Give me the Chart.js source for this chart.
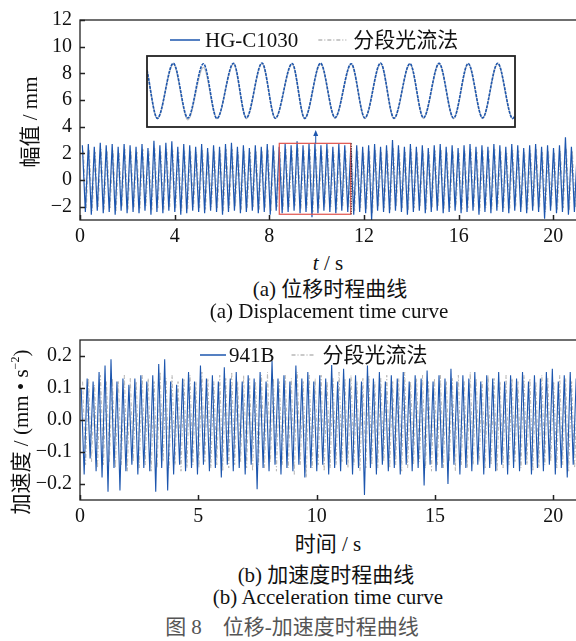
<!DOCTYPE html>
<html><head><meta charset="utf-8">
<script src="https://cdn.jsdelivr.net/npm/chart.js@4.4.1/dist/chart.umd.min.js"></script>
<style>
html,body{margin:0;padding:0;background:#fff;}
body{width:576px;height:641px;overflow:hidden;position:relative;}
canvas{position:absolute;}
.t{position:absolute;font-family:"Liberation Serif","Noto Sans CJK SC",serif;color:#111;white-space:nowrap;font-size:21px;line-height:1;transform:translate(-50%,-50%);}
.rot{transform:translate(-50%,-50%) rotate(-90deg);}
sup{font-size:12px;vertical-align:9px;line-height:0;}
</style></head><body>
<canvas id="cTop" width="580" height="250" style="left:0;top:0;width:580px;height:250px"></canvas>
<canvas id="cInset" width="370" height="73" style="left:146px;top:55px;width:370px;height:73px"></canvas>
<canvas id="cBot" width="580" height="210" style="left:0;top:320px;width:580px;height:210px"></canvas>
<div class="t rot" style="left:30px;top:122px">幅值 / mm</div>
<div class="t" style="left:328px;top:263px"><i>t</i> / s</div>
<div class="t" style="left:330px;top:289px">(a) 位移时程曲线</div>
<div class="t" style="left:329px;top:311px">(a) Displacement time curve</div>
<div class="t rot" style="left:21px;top:432px">加速度 / (mm • s<sup>−2</sup>)</div>
<div class="t" style="left:328px;top:544px">时间 / s</div>
<div class="t" style="left:326px;top:575px">(b) 加速度时程曲线</div>
<div class="t" style="left:328px;top:597px">(b) Acceleration time curve</div>
<div class="t" style="left:292px;top:627px;color:#555;font-size:21px">图 8　位移-加速度时程曲线</div>
<script>
// ---------- data ----------
// sampling of the extrema (peak / trough alternate every half period)
const sampleStart = 0.1;      // s, first displacement peak
const halfPeriod = 0.126;     // s
const ofLag = 0.04;           // s, optical-flow extrema lag
const accStart = 0.05;        // s, first acceleration peak
const accOfLag = 0.06;        // s

const xTicksTop = [0, 4, 8, 12, 16, 20];
const yTicksTop = [-2, 0, 2, 4, 6, 8, 10, 12];
const xTicksBot = [0, 5, 10, 15, 20];
const yTicksBot = [-0.2, -0.1, 0, 0.1, 0.2];

const hgPeaks = [2.6,2.7,2.5,2.8,2.6,2.7,2.5,2.7,2.6,2.5, 2.7,2.4,2.95,2.6,2.8,2.9,2.5,2.7,2.6,2.5,
  2.7,2.4,2.6,2.5,2.7,2.8,2.5,2.6,2.4,2.6, 2.5,2.7,2.6,2.5,2.7,2.6,2.9,2.6,2.7,2.8,
  2.6,2.7,2.5,2.7,2.6,2.4,2.6,2.5,2.6,2.7, 2.5,2.6,3.0,2.6,2.5,2.7,2.5,2.6,2.4,2.6,
  2.7,2.5,2.6,2.4,2.6,2.7,2.5,2.6,2.5,2.7, 2.6,2.5,2.7,2.6,2.4,2.6,2.7,2.5,2.6,2.4,
  2.6,3.2,2.5,2.5];
const hgTroughs = [-2.4,-2.6,-2.3,-2.5,-2.4,-2.6,-2.3,-2.5,-2.4,-2.5, -2.3,-2.6,-2.4,-2.5,-2.3,-2.4,-2.6,-2.5,-2.3,-2.4,
  -2.5,-2.3,-2.4,-2.6,-2.4,-2.3,-2.5,-2.4,-2.3,-2.5, -2.4,-2.6,-2.3,-2.5,-2.4,-2.3,-2.5,-2.4,-2.8,-2.5,
  -2.3,-2.4,-2.5,-2.3,-2.4,-2.6,-2.4,-2.5,-3.0,-2.3, -2.4,-2.5,-2.3,-2.4,-2.6,-2.4,-2.3,-2.5,-2.4,-2.3,
  -2.5,-2.4,-2.3,-2.5,-2.4,-2.3,-2.6,-2.4,-2.5,-2.3, -2.4,-2.5,-2.3,-2.4,-2.5,-2.3,-2.4,-2.9,-2.3,-2.5,
  -2.4,-2.6,-2.4,-2.5];
const ofPeaks = [2.2,2.3,2.1,2.3,2.2,2.2,2.1,2.3,2.2,2.1, 2.3,2.2,2.4,2.2,2.3,2.3,2.1,2.2,2.2,2.1,
  2.3,2.1,2.2,2.2,2.3,2.3,2.1,2.2,2.1,2.2, 2.2,2.3,2.2,2.1,2.3,2.2,2.4,2.2,2.3,2.3,
  2.2,2.3,2.1,2.2,2.2,2.1,2.2,2.1,2.2,2.3, 2.1,2.2,2.4,2.2,2.1,2.3,2.1,2.2,2.1,2.2,
  2.3,2.1,2.2,2.1,2.2,2.3,2.1,2.2,2.2,2.3, 2.2,2.1,2.3,2.2,2.1,2.2,2.3,2.1,2.2,2.1,
  2.2,2.4,2.2,2.1];
const ofTroughs = [-2.1,-2.3,-2.0,-2.2,-2.1,-2.3,-2.0,-2.2,-2.1,-2.2, -2.0,-2.3,-2.1,-2.2,-2.0,-2.1,-2.3,-2.2,-2.0,-2.1,
  -2.2,-2.0,-2.1,-2.3,-2.1,-2.0,-2.2,-2.1,-2.0,-2.2, -2.1,-2.3,-2.0,-2.2,-2.1,-2.0,-2.2,-2.1,-2.4,-2.2,
  -2.0,-2.1,-2.2,-2.0,-2.1,-2.3,-2.1,-2.2,-2.5,-2.0, -2.1,-2.2,-2.0,-2.1,-2.3,-2.1,-2.0,-2.2,-2.1,-2.0,
  -2.2,-2.1,-2.0,-2.2,-2.1,-2.0,-2.3,-2.1,-2.2,-2.0, -2.1,-2.2,-2.0,-2.1,-2.2,-2.0,-2.1,-2.4,-2.0,-2.2,
  -2.1,-2.3,-2.1,-2.2];

// zoomed window (inset), same displacement plotted with +6.7 mm offset
const zoomWindow = { t0: 8.42, t1: 11.44, lo: -2.57, hi: 2.75, arrowT: 9.96 };
const insetRange = { yMin: 3.98, yMax: 9.3 };
const insetT = [8.42, 8.505, 8.636, 8.755, 8.883, 8.994, 9.130, 9.235, 9.364, 9.473, 9.611, 9.714, 9.844, 9.963,
  10.096, 10.208, 10.337, 10.447, 10.578, 10.689, 10.817, 10.936, 11.056, 11.174, 11.298, 11.421, 11.44];
const insetHG = [8.25, 4.63, 8.75, 4.65, 8.72, 4.62, 8.76, 4.66, 8.78, 4.64, 8.74, 4.63, 8.76, 4.68,
  8.72, 4.66, 8.77, 4.64, 8.73, 4.67, 8.75, 4.65, 8.74, 4.66, 8.76, 4.62, 4.8];
const insetOF = [8.2, 4.6, 8.7, 4.52, 8.45, 4.6, 8.7, 4.6, 8.74, 4.62, 8.7, 4.6, 8.72, 4.64,
  8.68, 4.62, 8.74, 4.6, 8.7, 4.62, 8.72, 4.6, 8.7, 4.62, 8.72, 4.6, 4.75];

const accPeaks = [0.10,0.13,0.12,0.15,0.17,0.19,0.12,0.13,0.11,0.13, 0.14,0.12,0.14,0.175,0.19,0.12,0.11,0.13,0.15,0.12,
  0.17,0.13,0.14,0.12,0.165,0.13,0.15,0.12,0.14,0.13, 0.15,0.12,0.185,0.13,0.14,0.12,0.17,0.13,0.15,0.12,
  0.14,0.13,0.172,0.12,0.16,0.13,0.14,0.12,0.17,0.13, 0.15,0.12,0.14,0.13,0.15,0.12,0.14,0.13,0.155,0.12,
  0.14,0.13,0.16,0.12,0.14,0.13,0.15,0.12,0.14,0.13, 0.15,0.12,0.14,0.13,0.15,0.12,0.14,0.13,0.15,0.16,
  0.12,0.14,0.15,0.13];
const accTroughs = [-0.17,-0.12,-0.16,-0.18,-0.224,-0.15,-0.22,-0.16,-0.14,-0.17, -0.15,-0.16,-0.224,-0.15,-0.22,-0.17,-0.14,-0.16,-0.15,-0.17,
  -0.14,-0.16,-0.15,-0.18,-0.14,-0.16,-0.15,-0.17,-0.14,-0.216, -0.15,-0.16,-0.14,-0.17,-0.15,-0.16,-0.14,-0.18,-0.15,-0.16,
  -0.14,-0.17,-0.15,-0.16,-0.14,-0.17,-0.15,-0.234,-0.15,-0.17, -0.14,-0.16,-0.15,-0.17,-0.14,-0.16,-0.15,-0.205,-0.14,-0.16,
  -0.15,-0.20,-0.14,-0.17,-0.15,-0.16,-0.14,-0.17,-0.15,-0.16, -0.14,-0.17,-0.15,-0.16,-0.14,-0.17,-0.15,-0.16,-0.14,-0.17,
  -0.15,-0.18,-0.14,-0.16];
const accOfPeaks = [0.12,0.13,0.11,0.14,0.12,0.13,0.12,0.14,0.13,0.12, 0.14,0.13,0.12,0.15,0.13,0.14,0.12,0.13,0.14,0.12,
  0.15,0.13,0.12,0.14,0.13,0.15,0.12,0.14,0.13,0.12, 0.14,0.15,0.13,0.12,0.14,0.13,0.15,0.12,0.14,0.13,
  0.14,0.12,0.13,0.15,0.13,0.14,0.12,0.13,0.14,0.12, 0.13,0.14,0.12,0.13,0.15,0.12,0.13,0.14,0.12,0.13,
  0.14,0.12,0.13,0.14,0.12,0.15,0.13,0.12,0.14,0.13, 0.12,0.14,0.13,0.12,0.14,0.13,0.12,0.14,0.13,0.12,
  0.14,0.13,0.12,0.14];
const accOfTroughs = [-0.14,-0.13,-0.15,-0.14,-0.13,-0.15,-0.14,-0.16,-0.13,-0.15, -0.14,-0.16,-0.15,-0.13,-0.15,-0.14,-0.16,-0.15,-0.14,-0.15,
  -0.13,-0.15,-0.14,-0.16,-0.15,-0.14,-0.13,-0.15,-0.16,-0.14, -0.15,-0.13,-0.16,-0.14,-0.15,-0.17,-0.14,-0.18,-0.15,-0.14,
  -0.16,-0.15,-0.14,-0.13,-0.15,-0.14,-0.16,-0.15,-0.14,-0.15, -0.13,-0.15,-0.14,-0.16,-0.15,-0.14,-0.13,-0.15,-0.16,-0.14,
  -0.15,-0.13,-0.16,-0.14,-0.15,-0.14,-0.13,-0.15,-0.14,-0.16, -0.15,-0.14,-0.13,-0.15,-0.14,-0.16,-0.15,-0.14,-0.13,-0.15,
  -0.14,-0.16,-0.15,-0.14];

// ---------- helpers ----------
function extremaSeries(t0, step, peaks, troughs) {
  const pts = [];
  for (let k = 0; k < peaks.length; k++) {
    pts.push({ x: t0 + 2 * k * step, y: peaks[k] });
    if (k < troughs.length) pts.push({ x: t0 + (2 * k + 1) * step, y: troughs[k] });
  }
  return pts;
}
const pair = (ts, vs) => ts.map((t, i) => ({ x: t, y: vs[i] }));
const minus = s => s.replace('-', '\u2212');

const BLUE = '#1d56ae';
const GRAY = '#b8b8b8';
const FONT = '"Liberation Serif", "Noto Sans CJK SC", serif';
const tickFont = { family: FONT, size: 20 };

const framePlugin = {
  id: 'frame',
  afterDraw(chart) {
    const { ctx, chartArea: a } = chart;
    ctx.save();
    ctx.strokeStyle = '#222'; ctx.lineWidth = 1.3; ctx.setLineDash([]);
    ctx.strokeRect(a.left, a.top, a.right - a.left, a.bottom - a.top);
    const x = chart.scales.x, y = chart.scales.y;
    ctx.beginPath();
    x.ticks.forEach(t => { const p = Math.round(x.getPixelForValue(t.value)) + 0.5; ctx.moveTo(p, a.bottom); ctx.lineTo(p, a.bottom - 5); });
    y.ticks.forEach(t => { const p = Math.round(y.getPixelForValue(t.value)) + 0.5; ctx.moveTo(a.left, p); ctx.lineTo(a.left + 5, p); });
    ctx.lineWidth = 1.5; ctx.stroke();
    ctx.restore();
  }
};

const legendPlugin = {
  id: 'inlineLegend',
  afterDatasetsDraw(chart, args, opts) {
    if (!opts.items) return;
    const { ctx, chartArea: a } = chart;
    ctx.save();
    ctx.font = '21px ' + FONT;
    ctx.textBaseline = 'middle';
    let x = a.left + opts.dx;
    const y = a.top + opts.dy;
    opts.items.forEach(it => {
      const ds = chart.data.datasets[it.ds];
      ctx.strokeStyle = ds.borderColor; ctx.lineWidth = 1.5;
      ctx.setLineDash(ds.borderDash || []);
      ctx.beginPath(); ctx.moveTo(x, y); ctx.lineTo(x + it.line, y); ctx.stroke();
      ctx.setLineDash([]);
      x += it.line + it.gap;
      ctx.fillStyle = '#111';
      ctx.fillText(ds.label, x, y + 1);
      x += ctx.measureText(ds.label).width + (it.after || 0);
    });
    ctx.restore();
  }
};

const zoomPlugin = {
  id: 'zoomBox',
  afterDatasetsDraw(chart, args, opts) {
    if (!opts.win) return;
    const w = opts.win, { ctx } = chart, xs = chart.scales.x, ys = chart.scales.y;
    const l = xs.getPixelForValue(w.t0), r = xs.getPixelForValue(w.t1);
    const t = ys.getPixelForValue(w.hi), b = ys.getPixelForValue(w.lo);
    ctx.save();
    ctx.strokeStyle = '#e0534c'; ctx.lineWidth = 1.2;
    ctx.strokeRect(l, t, r - l, b - t);
    ctx.strokeStyle = '#000'; ctx.setLineDash([1, 1.5]); ctx.lineWidth = 1;
    ctx.beginPath(); ctx.moveTo(r + 0.5, t); ctx.lineTo(r + 0.5, b); ctx.stroke();
    ctx.setLineDash([]);
    const ax = xs.getPixelForValue(w.arrowT);
    const tip = ys.getPixelForValue(opts.insetBottom) + 3;
    ctx.strokeStyle = BLUE; ctx.fillStyle = BLUE; ctx.lineWidth = 1;
    ctx.beginPath(); ctx.moveTo(ax, t); ctx.lineTo(ax, tip + 4); ctx.stroke();
    ctx.beginPath(); ctx.moveTo(ax, tip); ctx.lineTo(ax - 2.5, tip + 6); ctx.lineTo(ax + 2.5, tip + 6); ctx.closePath(); ctx.fill();
    ctx.restore();
  }
};

function axisOpts(min, max, ticks, fmt, isX) {
  return {
    type: 'linear', min, max,
    grid: { display: false, drawTicks: false },
    border: { display: false },
    afterBuildTicks: s => { s.ticks = ticks.map(v => ({ value: v })); },
    afterFit: s => { if (isX) s.height = 30; else s.width = 80; },
    ticks: { font: tickFont, color: '#111', padding: isX ? 5 : 8, maxRotation: 0, autoSkip: false, callback: v => fmt(v) }
  };
}

function mainChart(id, datasets, xTicks, yMin, yMax, yTicks, yFmt, xFmt, pluginOpts) {
  return new Chart(document.getElementById(id), {
    type: 'line',
    data: { datasets },
    options: {
      responsive: false, animation: false, events: [], devicePixelRatio: 1,
      layout: { padding: { left: 0, right: 3, top: 20, bottom: 0 } },
      scales: {
        x: axisOpts(0, 21, xTicks, xFmt, true),
        y: axisOpts(yMin, yMax, yTicks, yFmt, false)
      },
      plugins: Object.assign({ legend: { display: false }, tooltip: { enabled: false } }, pluginOpts)
    },
    plugins: [framePlugin, legendPlugin, zoomPlugin]
  });
}

// Chart.js paints dataset 0 last (on top): the blue sensor curve comes first.
// ---------- top: displacement ----------
mainChart('cTop', [
  { label: 'HG-C1030', data: extremaSeries(sampleStart, halfPeriod, hgPeaks, hgTroughs),
    borderColor: BLUE, borderWidth: 1.2, pointRadius: 0, tension: 0 },
  { label: '分段光流法', data: extremaSeries(sampleStart + ofLag, halfPeriod, ofPeaks, ofTroughs),
    borderColor: GRAY, borderWidth: 1, borderDash: [4, 2, 1, 2], pointRadius: 0, tension: 0 }
], xTicksTop, -3, 12, yTicksTop, v => minus(String(v)), v => String(v), {
  inlineLegend: { dx: 90, dy: 20, items: [{ ds: 0, line: 30, gap: 5, after: 20 }, { ds: 1, line: 28, gap: 7 }] },
  zoomBox: { win: zoomWindow, insetBottom: insetRange.yMin }
});

// ---------- inset ----------
new Chart(document.getElementById('cInset'), {
  type: 'line',
  data: { datasets: [
    { label: 'HG-C1030', data: pair(insetT, insetHG), borderColor: BLUE, borderWidth: 1.6, borderDash: [3, 1], pointRadius: 0, cubicInterpolationMode: 'monotone' },
    { label: '分段光流法', data: pair(insetT, insetOF), borderColor: '#c8c8c8', borderWidth: 1.4, pointRadius: 0, cubicInterpolationMode: 'monotone' }
  ] },
  options: {
    responsive: false, animation: false, events: [], devicePixelRatio: 1,
    layout: { padding: 1 },
    scales: {
      x: { type: 'linear', display: false, min: zoomWindow.t0, max: zoomWindow.t1 },
      y: { type: 'linear', display: false, min: insetRange.yMin, max: insetRange.yMax }
    },
    plugins: { legend: { display: false }, tooltip: { enabled: false } }
  },
  plugins: [{
    id: 'insetFrame',
    afterDraw(chart) {
      const { ctx, chartArea: a } = chart;
      ctx.save(); ctx.strokeStyle = '#222'; ctx.lineWidth = 1.8;
      ctx.strokeRect(a.left, a.top, a.right - a.left, a.bottom - a.top); ctx.restore();
    }
  }]
});

// ---------- bottom: acceleration ----------
mainChart('cBot', [
  { label: '941B', data: extremaSeries(accStart, halfPeriod, accPeaks, accTroughs),
    borderColor: BLUE, borderWidth: 1.1, pointRadius: 0, tension: 0 },
  { label: '分段光流法', data: extremaSeries(accStart + accOfLag, halfPeriod, accOfPeaks, accOfTroughs),
    borderColor: GRAY, borderWidth: 1, borderDash: [4, 2, 1, 2], pointRadius: 0, tension: 0 }
], xTicksBot, -0.25, 0.25, yTicksBot, v => minus(v.toFixed(1)), v => String(v), {
  inlineLegend: { dx: 120, dy: 15, items: [{ ds: 0, line: 26, gap: 3, after: 17 }, { ds: 1, line: 22, gap: 9 }] }
});
</script>
</body></html>
